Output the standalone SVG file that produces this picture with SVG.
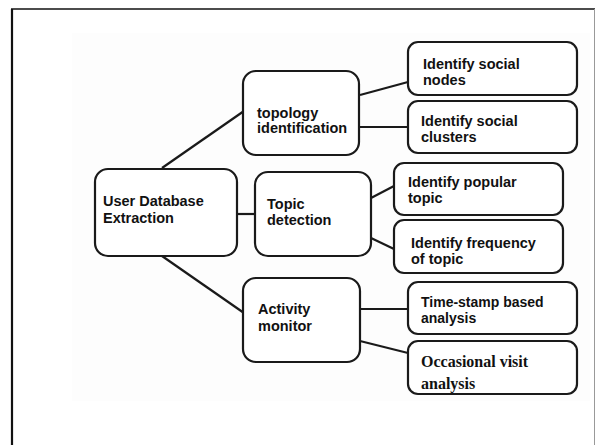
<svg xmlns="http://www.w3.org/2000/svg" width="598" height="445" viewBox="0 0 598 445">
<style>
.box{fill:#fff;stroke:#1a1a1a;stroke-width:2.2}
.sans{font-family:"Liberation Sans",Arial,sans-serif;font-weight:bold;font-size:14.5px;fill:#111}
.serif{font-family:"Liberation Serif","Times New Roman",serif;font-weight:bold;font-size:16px;fill:#111}
.conn line{stroke:#1a1a1a;stroke-width:2.2}
</style>
<rect x="0" y="0" width="598" height="445" fill="#fff"/>
<rect x="72" y="33" width="518" height="368" fill="#fdfdfd"/>
<line x1="12" y1="9" x2="12" y2="445" stroke="#111" stroke-width="2.2"/>
<line x1="11" y1="9" x2="595" y2="9" stroke="#111" stroke-width="1.6"/>
<line x1="594.5" y1="9" x2="594.5" y2="445" stroke="#999" stroke-width="1"/>
<g class="conn" id="connectors">
<line x1="162" y1="168" x2="244" y2="111"/>
<line x1="237" y1="214" x2="255" y2="214"/>
<line x1="162" y1="256" x2="244" y2="313"/>
<line x1="360" y1="95" x2="408" y2="82"/>
<line x1="359" y1="127" x2="408" y2="127"/>
<line x1="371" y1="198" x2="394" y2="186"/>
<line x1="371" y1="238" x2="394" y2="249"/>
<line x1="359" y1="309" x2="408" y2="309"/>
<line x1="360" y1="341" x2="408" y2="353"/>
</g>
<g id="user-db">
<rect class="box" x="95" y="169" width="142" height="87" rx="13"/>
<text class="sans" x="103" y="206">User Database</text>
<text class="sans" x="103" y="223">Extraction</text>
</g>
<g id="topology">
<rect class="box" x="243" y="71" width="116" height="84" rx="13"/>
<text class="sans" x="257" y="118">topology</text>
<text class="sans" x="257" y="133">identification</text>
</g>
<g id="topic">
<rect class="box" x="255" y="172" width="116" height="84" rx="13"/>
<text class="sans" x="267" y="209">Topic</text>
<text class="sans" x="267" y="225">detection</text>
</g>
<g id="activity">
<rect class="box" x="243" y="278" width="117" height="84" rx="13"/>
<text class="sans" x="258" y="314">Activity</text>
<text class="sans" x="258" y="331">monitor</text>
</g>
<g id="social-nodes">
<rect class="box" x="408" y="42" width="169" height="53" rx="10"/>
<text class="sans" x="423" y="69">Identify social</text>
<text class="sans" x="423" y="85">nodes</text>
</g>
<g id="social-clusters">
<rect class="box" x="408" y="101" width="169" height="52" rx="10"/>
<text class="sans" x="421" y="126">Identify social</text>
<text class="sans" x="421" y="142">clusters</text>
</g>
<g id="popular-topic">
<rect class="box" x="394" y="163" width="169" height="52" rx="10"/>
<text class="sans" x="408" y="187">Identify popular</text>
<text class="sans" x="408" y="203">topic</text>
</g>
<g id="frequency-topic">
<rect class="box" x="394" y="220" width="169" height="53" rx="10"/>
<text class="sans" x="411" y="248">Identify frequency</text>
<text class="sans" x="411" y="264">of topic</text>
</g>
<g id="timestamp">
<rect class="box" x="408" y="282" width="169" height="52" rx="10"/>
<text class="sans" x="421" y="307" style="font-size:14px">Time-stamp based</text>
<text class="sans" x="421" y="323" style="font-size:14px">analysis</text>
</g>
<g id="occasional">
<rect class="box" x="408" y="341" width="169" height="53" rx="10"/>
<text class="serif" x="421" y="367">Occasional visit</text>
<text class="serif" x="421" y="389">analysis</text>
</g>
</svg>
